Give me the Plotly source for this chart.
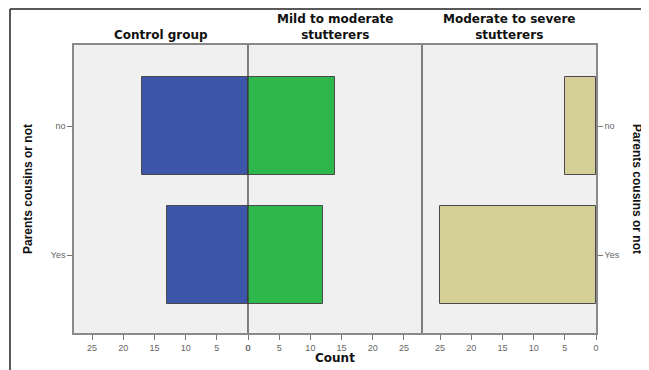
import plotly.graph_objects as go

categories = ["no", "Yes"]
groups = ["Control group", "Mild to moderate<br>stutterers", "Moderate to severe<br>stutterers"]
control_counts = [17, 13]
mild_counts = [14, 12]
severe_counts = [5, 25]
x_ticks = [0, 5, 10, 15, 20, 25]
y_title = "Parents cousins or not"
x_title = "Count"

# page body has an 8px margin; layout is expressed in screen pixels
O = 8
W, H = 649 - O, 370 - O
L, T = 74 - O, 45 - O
PW, PH = 522, 288
R = W - L - PW
B = H - T - PH


def px(xs):
    return (xs - O - L) / PW


def py(ys):
    return (T + PH - (ys - O)) / PH


colors = ["#3E56AA", "#2EB84B", "#D4CF97"]
fig = go.Figure()
for i, (vals, col) in enumerate(zip([control_counts, mild_counts, severe_counts], colors)):
    fig.add_trace(go.Bar(
        x=vals, y=categories, orientation="h",
        marker=dict(color=col, line=dict(color="#4a4a4a", width=1)),
        width=0.76,
        xaxis="x" if i == 0 else f"x{i+1}",
        yaxis="y2" if i == 2 else "y",
        showlegend=False,
    ))

xmax = 27.9
tickfont = dict(family="Liberation Sans, Arial, sans-serif", size=9, color="#666666")
xcommon = dict(tickvals=x_ticks, ticks="outside", ticklen=5, tickcolor="#777777",
               tickfont=tickfont, showgrid=False, zeroline=False, showline=True,
               linecolor="#8a8a8a", linewidth=1.5, mirror=True, fixedrange=True)
ycommon = dict(type="category", categoryorder="array", categoryarray=["Yes", "no"],
               range=[-0.605, 1.63], ticks="outside", ticklen=5, tickcolor="#777777",
               tickfont=tickfont, showgrid=False, zeroline=False, showline=True,
               linecolor="#8a8a8a", linewidth=1.5, domain=[0, 1])

third = 1 / 3
fig.update_layout(
    width=W, height=H,
    margin=dict(l=L, r=R, t=T, b=B, pad=0),
    paper_bgcolor="white", plot_bgcolor="#F0F0F0",
    bargap=0,
    xaxis=dict(domain=[0, third], range=[xmax, 0], anchor="y", **xcommon),
    xaxis2=dict(domain=[third, 2 * third], range=[0, xmax], anchor="y", **xcommon),
    xaxis3=dict(domain=[2 * third, 1], range=[xmax, 0], anchor="y2", **xcommon),
    yaxis=dict(anchor="x", side="left", **ycommon),
    yaxis2=dict(anchor="x3", side="right", **ycommon),
)

title_font = dict(family="DejaVu Sans, Verdana, sans-serif", size=12, color="#111111")
centers = [161, 335, 509]
for g, cx in zip(groups, centers):
    fig.add_annotation(text="<b>" + g + "</b>", x=px(cx), y=py(44), xref="paper", yref="paper",
                       xanchor="center", yanchor="bottom", showarrow=False, font=title_font,
                       align="center")

fig.add_annotation(text="<b>" + x_title + "</b>", x=px(335), y=py(358), xref="paper", yref="paper",
                   xanchor="center", yanchor="middle", showarrow=False, font=title_font)

ytf = dict(family="Liberation Sans Narrow, Arial Narrow, Liberation Sans, sans-serif", size=12, color="#111111")
fig.add_annotation(text="<b>" + y_title + "</b>", x=px(28), y=py(189), xref="paper", yref="paper",
                   xanchor="center", yanchor="middle", showarrow=False, font=ytf, textangle=-90)
fig.add_annotation(text="<b>" + y_title + "</b>", x=px(637), y=py(189), xref="paper", yref="paper",
                   xanchor="center", yanchor="middle", showarrow=False, font=ytf, textangle=90)

# dark divider lines between panels
for xp in [248, 422]:
    fig.add_shape(type="line", xref="paper", yref="paper", x0=px(xp), x1=px(xp), y0=0, y1=1,
                  line=dict(color="#333333", width=1.2))
# outer frame
fig.add_shape(type="line", xref="paper", yref="paper", x0=px(10), x1=px(660), y0=py(9), y1=py(9),
              line=dict(color="#222222", width=1.5))
fig.add_shape(type="line", xref="paper", yref="paper", x0=px(10), x1=px(10), y0=py(9), y1=py(380),
              line=dict(color="#222222", width=1.5))

fig.write_html("out.html")
